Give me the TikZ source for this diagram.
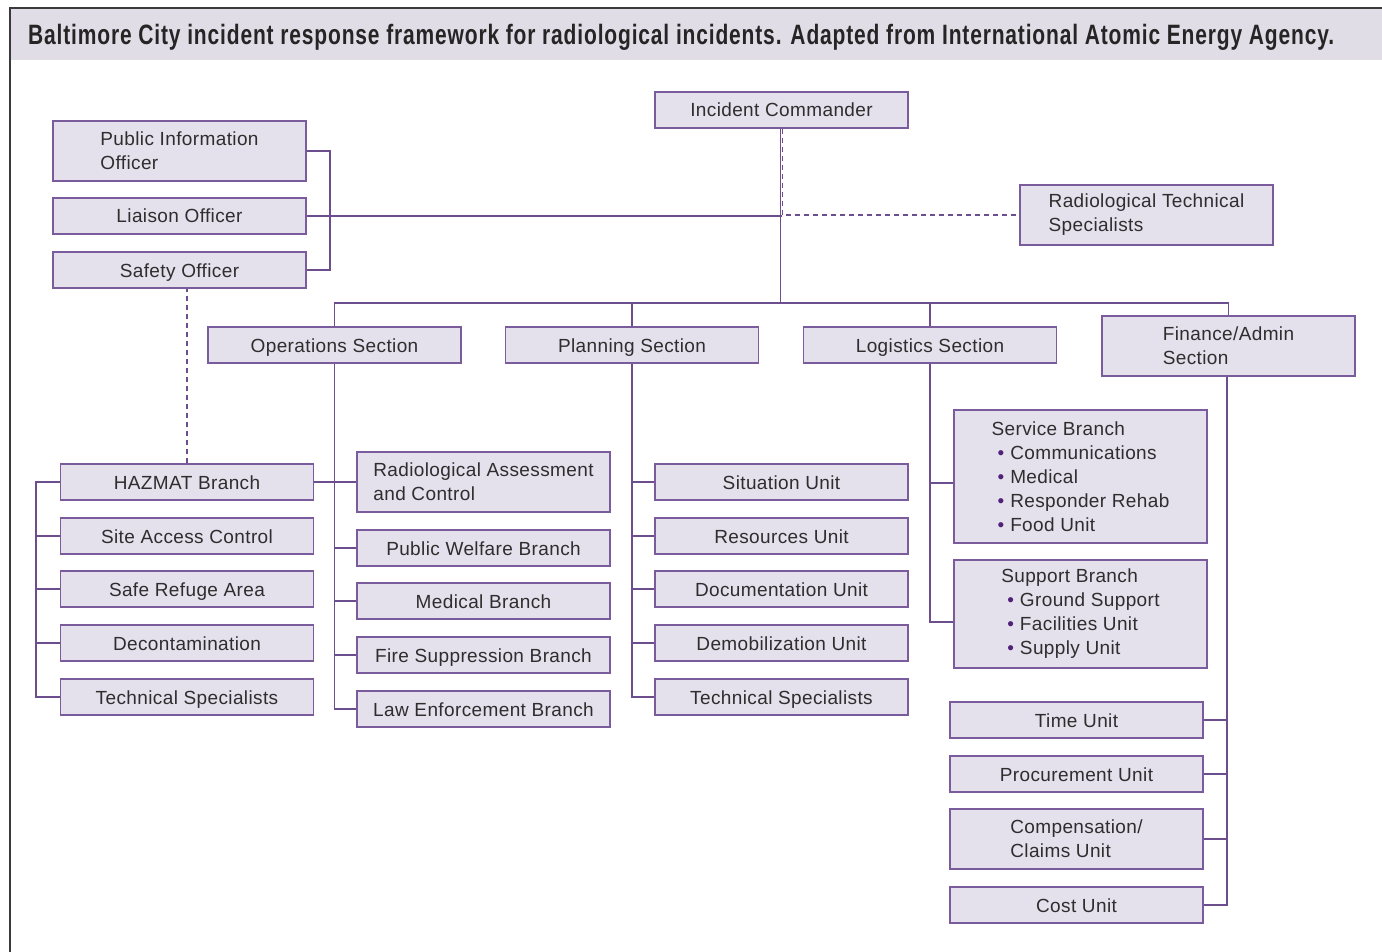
\documentclass[tikz,border=0pt]{standalone}
\usepackage{fontspec}
\setmainfont{Liberation Sans}[LetterSpace=2]
\newfontfamily\titlefont{Liberation Sans}[FakeStretch=0.75,LetterSpace=3]
\usepackage{tikz}
\definecolor{boxfill}{HTML}{E4E0EC}
\definecolor{boxline}{HTML}{7A5C9C}
\definecolor{linkcol}{HTML}{6C4E8E}
\definecolor{bandfill}{HTML}{E1DDE6}
\definecolor{framecol}{HTML}{3A3A3A}
\definecolor{textcol}{HTML}{2E2E2E}
\definecolor{bulletcol}{HTML}{4F2278}
\tikzset{
  boxbase/.style={draw=boxline, fill=boxfill, line width=1.5pt,
    minimum width=253pt, inner sep=0pt, align=left, text=textcol,
    font=\fontsize{19}{24}\selectfont},
  unit/.style={boxbase, minimum height=36pt, text height=15pt, text depth=1pt},
  tallunit/.style={boxbase, minimum height=60pt},
  link/.style={draw=linkcol, line width=1.4pt},
  dlink/.style={link, dash pattern=on 5pt off 4pt},
}

\begin{document}
\begin{tikzpicture}[x=1pt,y=-1pt]
  % page
  \useasboundingbox (0,0) rectangle (1382,952);
  \def\bul#1{\hspace*{6pt}\textcolor{bulletcol}{\textbullet}\hspace{6pt}#1}

  % title band and frame
  \fill[bandfill] (10,8) rectangle (1382,60);
  \draw[framecol, line width=2.5pt] (10,952) -- (10,8) -- (1382,8);
  \node[anchor=base west, inner sep=0pt, text=textcol!80!black,
        font=\titlefont\bfseries\fontsize{28}{30}\selectfont] (title) at (28,45)
    {Baltimore City incident response framework for radiological incidents. Adapted from International Atomic Energy Agency.};

  % command staff
  \node[unit] (ic) at (781.5,110) {Incident Commander};
  \node[tallunit] (pio) at (179.5,151) {Public Information\\Officer};
  \node[unit] (liaison) at (179.5,216) {Liaison Officer};
  \node[unit] (safety) at (179.5,270) {Safety Officer};
  \node[tallunit] (rts) at (1146.5,215) {Radiological Technical\\Specialists};

  % sections
  \node[unit] (ops) at (334.5,345) {Operations Section};
  \node[unit] (plan) at (632,345) {Planning Section};
  \node[unit] (log) at (930,345) {Logistics Section};
  \node[tallunit] (fin) at (1228.5,346) {Finance/Admin\\Section};

  % operations
  \node[unit] (hazmat) at (187,482) {HAZMAT Branch};
  \node[unit] (sac) at (187,536) {Site Access Control};
  \node[unit] (sra) at (187,589) {Safe Refuge Area};
  \node[unit] (decon) at (187,643) {Decontamination};
  \node[unit] (hzts) at (187,697) {Technical Specialists};
  \node[tallunit] (rac) at (483.5,482) {Radiological Assessment\\and Control};
  \node[unit] (welfare) at (483.5,548) {Public Welfare Branch};
  \node[unit] (medical) at (483.5,601) {Medical Branch};
  \node[unit] (fire) at (483.5,655) {Fire Suppression Branch};
  \node[unit] (law) at (483.5,709) {Law Enforcement Branch};

  % planning
  \node[unit] (situation) at (781.5,482) {Situation Unit};
  \node[unit] (resources) at (781.5,536) {Resources Unit};
  \node[unit] (docs) at (781.5,589) {Documentation Unit};
  \node[unit] (demob) at (781.5,643) {Demobilization Unit};
  \node[unit] (pts) at (781.5,697) {Technical Specialists};

  % logistics
  \node[boxbase, minimum height=133pt] (service) at (1080.5,476.5)
    {Service Branch\\\bul{Communications}\\\bul{Medical}\\\bul{Responder Rehab}\\\bul{Food Unit}};
  \node[boxbase, minimum height=108pt] (support) at (1080.5,614)
    {Support Branch\\\bul{Ground Support}\\\bul{Facilities Unit}\\\bul{Supply Unit}};

  % finance
  \node[unit] (time) at (1076.5,720) {Time Unit};
  \node[unit] (procure) at (1076.5,774) {Procurement Unit};
  \node[tallunit] (comp) at (1076.5,839) {Compensation/\\Claims Unit};
  \node[unit] (cost) at (1076.5,905) {Cost Unit};

  % connectors
  \coordinate (cmdbus) at (330,0);
  \coordinate (bus) at (0,303);
  \coordinate (hzbus) at (36,0);
  \coordinate (servicein) at ([yshift=-6.5pt]service.west);
  \coordinate (supportin) at ([yshift=-8pt]support.west);

  \draw[link] (pio.east) -- (pio.east -| cmdbus) -- (safety.east -| cmdbus) -- (safety.east);
  \draw[link] (liaison.east) -- (liaison.east -| ic.south);
  \draw[link] ([xshift=-1pt]ic.south) -- ([xshift=-1pt]ic.south |- bus);
  \draw[dlink] ([xshift=1pt]ic.south) |- (rts.west);
  \draw[link] (ops.north) -- (ops.north |- bus) -| (fin.north);
  \draw[link] (plan.north) -- (plan.north |- bus);
  \draw[link] (log.north) -- (log.north |- bus);

  \draw[dlink] (hazmat.north) -- (hazmat.north |- safety.south);
  \draw[link] (ops.south) -- (ops.south |- law.west) -- (law.west);
  \draw[link] (hazmat.east) -- (rac.west);
  \foreach \n in {welfare,medical,fire}
    \draw[link] (ops.south |- \n.west) -- (\n.west);
  \draw[link] (hazmat.west) -- (hazmat.west -| hzbus) -- (hzts.west -| hzbus) -- (hzts.west);
  \foreach \n in {sac,sra,decon}
    \draw[link] (hzbus |- \n.west) -- (\n.west);

  \draw[link] (plan.south) -- (plan.south |- pts.west) -- (pts.west);
  \foreach \n in {situation,resources,docs,demob}
    \draw[link] (plan.south |- \n.west) -- (\n.west);

  \draw[link] (log.south) -- (log.south |- supportin) -- (supportin);
  \draw[link] (log.south |- servicein) -- (servicein);

  \draw[link] ([xshift=-1.5pt]fin.south) -- ([xshift=-1.5pt]fin.south |- cost.east) -- (cost.east);
  \foreach \n in {time,procure,comp}
    \draw[link] ([xshift=-1.5pt]fin.south |- \n.east) -- (\n.east);
\end{tikzpicture}
\end{document}
